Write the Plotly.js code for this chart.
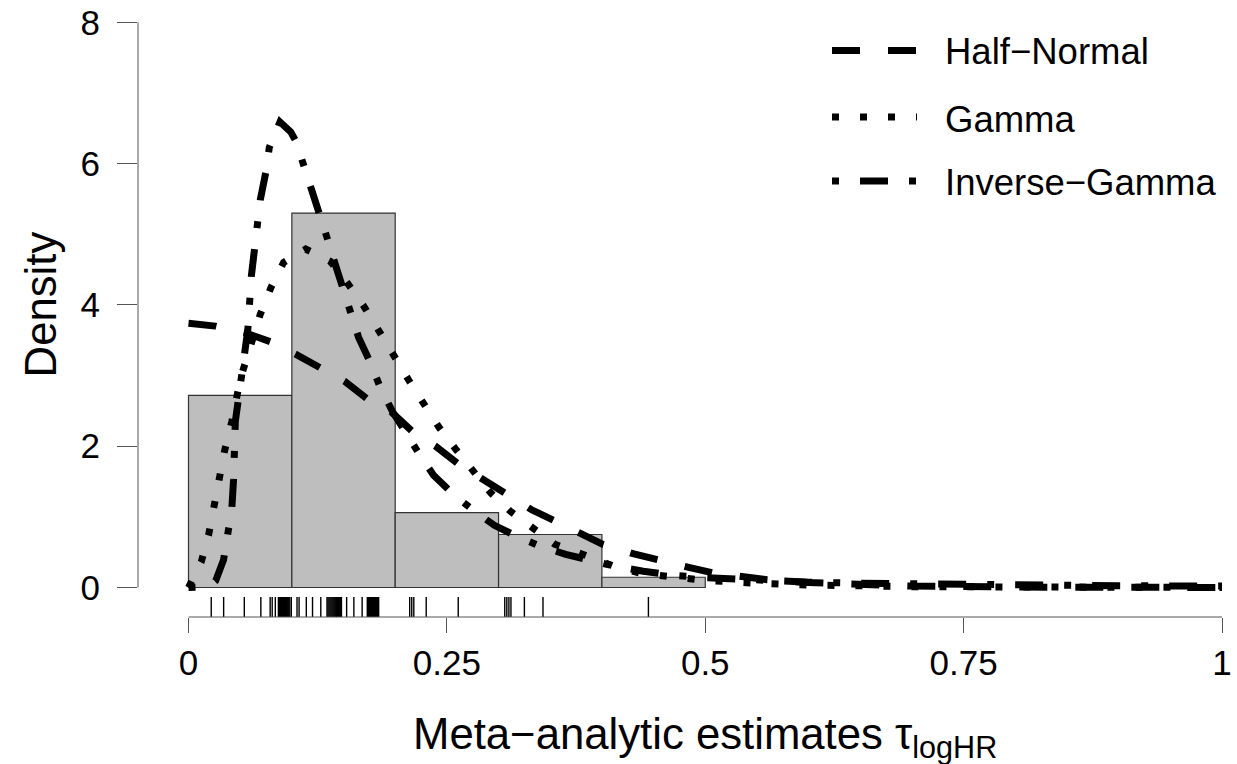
<!DOCTYPE html>
<html><head><meta charset="utf-8">
<script src="https://cdn.plot.ly/plotly-3.0.1.min.js"></script>
<style>html,body{margin:0;padding:0;background:#fff;} #chart{width:1237px;height:764px;}</style>
</head><body><div id="chart"></div>
<script>
// ---- data ----
const binEdges = [0, 0.1, 0.2, 0.3, 0.4, 0.5];
const binDensity = [2.72, 5.30, 1.06, 0.75, 0.145];

const rugValues = [
  0.022, 0.034, 0.054, 0.070, 0.079, 0.081, 0.084, 0.087, 0.088, 0.089, 0.090, 0.091, 0.092,
  0.093, 0.094, 0.095, 0.096, 0.097, 0.098, 0.0995,
  0.105, 0.107, 0.114, 0.120, 0.128, 0.134, 0.135, 0.136, 0.137, 0.138, 0.139, 0.140, 0.141,
  0.142, 0.143, 0.144, 0.145, 0.146, 0.147, 0.148, 0.153, 0.160, 0.168, 0.173, 0.174, 0.175,
  0.176, 0.177, 0.178, 0.179, 0.180, 0.181, 0.182, 0.183, 0.184,
  0.214, 0.216, 0.218, 0.230, 0.261,
  0.306, 0.308, 0.310, 0.312, 0.325, 0.343,
  0.445
];

const halfNormalX = [0, 0.026, 0.054, 0.079, 0.104, 0.128, 0.151, 0.173, 0.196, 0.218, 0.239, 0.261,
  0.287, 0.308, 0.332, 0.355, 0.381, 0.401, 0.431, 0.457, 0.484, 0.510, 0.534, 0.56, 0.6, 0.65, 0.7, 0.8, 0.9, 1.0];
const halfNormalY = [3.74, 3.70, 3.61, 3.48, 3.30, 3.11, 2.92, 2.67, 2.49, 2.19, 2.00, 1.75,
  1.51, 1.32, 1.10, 0.94, 0.75, 0.61, 0.475, 0.37, 0.285, 0.20, 0.15, 0.11, 0.07, 0.04, 0.02, 0.006, 0.002, 0.0005];

const gammaX = [0, 0.0125, 0.0194, 0.0246, 0.0298, 0.035, 0.0419, 0.0505, 0.0626, 0.0695, 0.0799, 0.092,
  0.1134, 0.1369, 0.1542, 0.1697, 0.1835, 0.1974, 0.2129, 0.2268, 0.2423, 0.2579, 0.2734, 0.2924,
  0.3114, 0.3339, 0.3546, 0.3805, 0.4099, 0.4375, 0.47, 0.5, 0.55, 0.6, 0.7, 0.8, 0.9, 1.0];
const gammaY = [0, 0.37, 0.74, 1.15, 1.53, 1.94, 2.35, 2.97, 3.54, 3.87, 4.25, 4.60,
  4.79, 4.62, 4.30, 3.98, 3.65, 3.30, 2.94, 2.62, 2.27, 1.97, 1.67, 1.34,
  1.08, 0.83, 0.61, 0.475, 0.31, 0.20, 0.14, 0.10, 0.06, 0.035, 0.012, 0.004, 0.001, 0];

const invGammaX = [0, 0.015, 0.022, 0.0263, 0.0339, 0.0419, 0.0436, 0.0443, 0.0453, 0.0488, 0.054, 0.0574,
  0.0609, 0.0643, 0.0661, 0.0695, 0.0747, 0.0782, 0.0885, 0.0989, 0.1041, 0.1127, 0.1196, 0.1283,
  0.1352, 0.1421, 0.1507, 0.1576, 0.1646, 0.1767, 0.1853, 0.1974, 0.2095, 0.2233, 0.2371, 0.256,
  0.275, 0.2959, 0.3183, 0.3408, 0.365, 0.3892, 0.4099, 0.44, 0.47, 0.5, 0.55, 0.6, 0.65, 0.7, 0.8, 0.9, 1.0];
const invGammaY = [0, 0.01, 0.04, 0.095, 0.39, 1.11, 1.53, 1.86, 2.35, 2.72, 3.33, 3.65,
  4.42, 4.80, 5.12, 5.49, 5.87, 6.23, 6.59, 6.45, 6.31, 5.94, 5.61, 5.26,
  4.90, 4.57, 4.19, 3.87, 3.54, 3.16, 2.84, 2.49, 2.19, 1.89, 1.59, 1.32,
  1.10, 0.88, 0.72, 0.58, 0.47, 0.37, 0.31, 0.23, 0.17, 0.14, 0.10, 0.075, 0.06, 0.05, 0.035, 0.025, 0.02];

const seriesNames = ['Half\u2212Normal', 'Gamma', 'Inverse\u2212Gamma'];
const xTickVals = [0, 0.25, 0.5, 0.75, 1];
const xTickText = ['0', '0.25', '0.5', '0.75', '1'];
const yTickVals = [0, 2, 4, 6, 8];
const xTitle = 'Meta\u2212analytic estimates \u03c4<sub>logHR</sub>';
const yTitle = 'Density';

// ---- geometry / styles ----
const W = 1237, H = 764;
const plotLeft = 138, plotRight = 1230, plotTop = 10, plotBottom = 617;
const x0px = 188.5, pxPerX = 1033.5, y0px = 587.5, pxPerY = 70.65;
const xRange = [(plotLeft - x0px) / pxPerX, (plotRight - x0px) / pxPerX];
const yRange = [(y0px - plotBottom) / pxPerY, (y0px - plotTop) / pxPerY];
const paperX = px => (px - plotLeft) / (plotRight - plotLeft);
const paperY = py => (plotBottom - py) / (plotBottom - plotTop);
const FONT = 'Liberation Sans, Arial, sans-serif';
const dashes = ['28px,28px', '7px,21px', '7px,21px,28px,21px'];
const LW = 7;
const axisColor = '#555';

const centers = binDensity.map((_, i) => (binEdges[i] + binEdges[i + 1]) / 2);
const widths = binDensity.map((_, i) => binEdges[i + 1] - binEdges[i]);

const traces = [
  { type: 'bar', x: centers, y: binDensity, width: widths,
    marker: { color: '#BEBEBE', line: { color: '#333', width: 1.2 } }, hoverinfo: 'skip' },
  { type: 'scatter', mode: 'lines', x: halfNormalX, y: halfNormalY, name: seriesNames[0],
    line: { color: 'black', width: LW, dash: dashes[0] } },
  { type: 'scatter', mode: 'lines', x: gammaX, y: gammaY, name: seriesNames[1],
    line: { color: 'black', width: LW, dash: dashes[1] } },
  { type: 'scatter', mode: 'lines', x: invGammaX, y: invGammaY, name: seriesNames[2],
    line: { color: 'black', width: LW, dash: dashes[2] } },
  { type: 'scatter', mode: 'markers', x: rugValues, y: rugValues.map(() => (y0px - 607) / pxPerY),
    marker: { symbol: 'line-ns-open', size: 14.3, color: 'black', line: { color: 'black', width: 1.4 } },
    cliponaxis: false }
];

const shapes = [
  // R-style axis lines spanning only the tick range
  { type: 'line', xref: 'x', yref: 'paper', x0: xTickVals[0], x1: xTickVals[xTickVals.length - 1], y0: 0, y1: 0,
    line: { color: axisColor, width: 1 } },
  { type: 'line', xref: 'paper', yref: 'y', x0: 0, x1: 0, y0: yTickVals[0], y1: yTickVals[yTickVals.length - 1],
    line: { color: axisColor, width: 1 } }
];
const annotations = [];
const legendRows = [50.5, 117, 181];
const legendTextRows = [51.5, 119, 182];
seriesNames.forEach((nm, i) => {
  shapes.push({ type: 'line', xref: 'paper', yref: 'paper', x0: paperX(832), x1: paperX(917),
    y0: paperY(legendRows[i]), y1: paperY(legendRows[i]), line: { color: 'black', width: LW, dash: dashes[i] } });
  annotations.push({ text: nm, xref: 'paper', yref: 'paper', x: paperX(943), y: paperY(legendTextRows[i]),
    xanchor: 'left', yanchor: 'middle', showarrow: false, font: { family: FONT, size: 36.5, color: 'black' } });
});
annotations.push({ text: xTitle, xref: 'x', yref: 'paper', x: 0.5, y: paperY(737), xanchor: 'center', yanchor: 'middle',
  showarrow: false, font: { family: FONT, size: 43.7, color: 'black' } });
annotations.push({ text: yTitle, xref: 'paper', yref: 'y', x: paperX(40.5), y: 4, xanchor: 'center', yanchor: 'middle',
  textangle: -90, showarrow: false, font: { family: FONT, size: 43.7, color: 'black' } });

const layout = {
  width: W, height: H,
  margin: { l: plotLeft, r: W - plotRight, t: plotTop, b: H - plotBottom, pad: 0 },
  paper_bgcolor: 'white', plot_bgcolor: 'white',
  showlegend: false,
  font: { family: FONT, size: 35, color: 'black' },
  xaxis: { range: xRange, showgrid: false, zeroline: false, showline: false,
    tickmode: 'array', tickvals: xTickVals, ticktext: xTickText,
    ticks: 'outside', ticklen: 15, tickwidth: 1, tickcolor: axisColor, ticklabelstandoff: 0,
    tickfont: { family: FONT, size: 35, color: 'black' } },
  yaxis: { range: yRange, showgrid: false, zeroline: false, showline: false,
    tickmode: 'array', tickvals: yTickVals,
    ticks: 'outside', ticklen: 20, tickwidth: 1, tickcolor: axisColor, ticklabelstandoff: 10,
    tickfont: { family: FONT, size: 35, color: 'black' } },
  shapes: shapes, annotations: annotations
};

Plotly.newPlot('chart', traces, layout, { staticPlot: true, displayModeBar: false });
</script>
</body></html>
